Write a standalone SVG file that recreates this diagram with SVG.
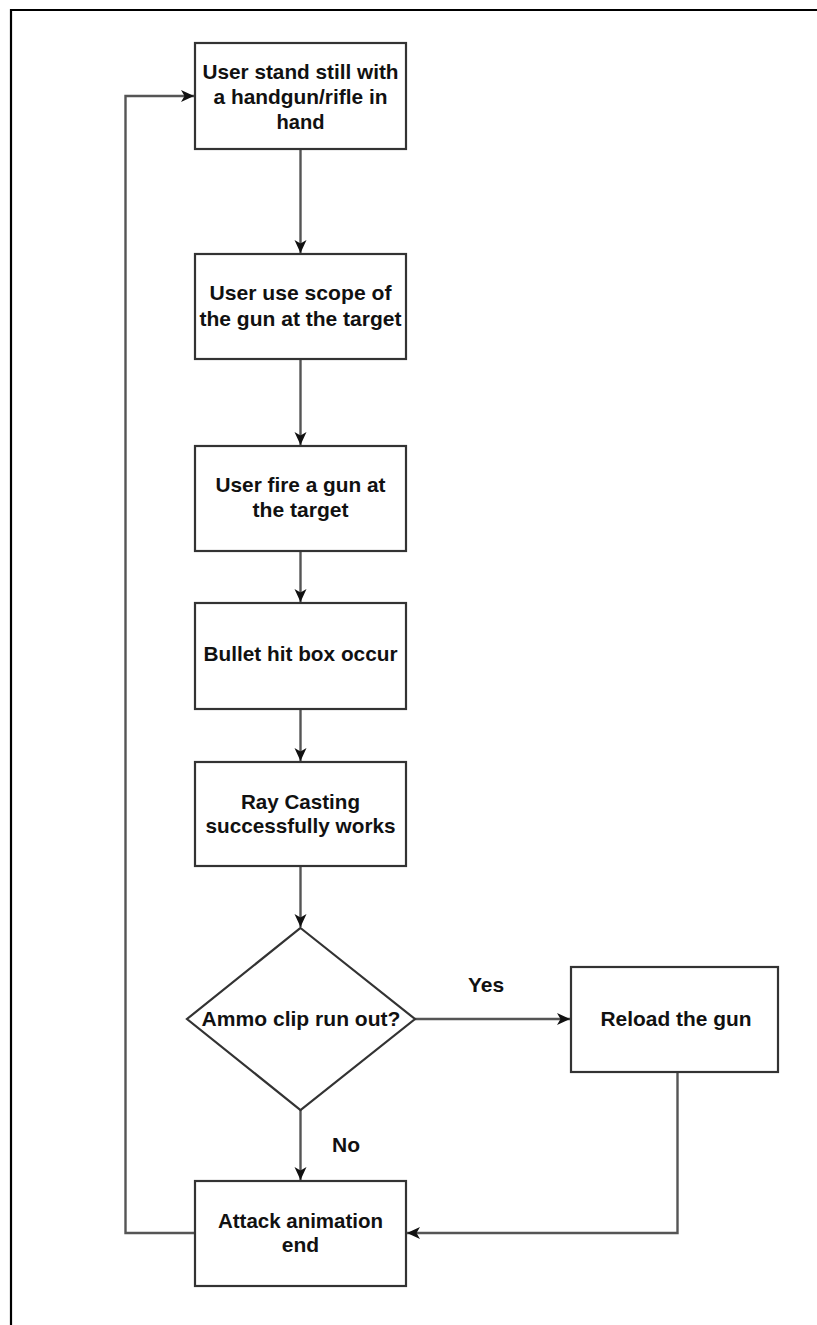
<svg xmlns="http://www.w3.org/2000/svg" width="817" height="1325" viewBox="0 0 817 1325">
<style>
.box{fill:#fff;stroke:#333;stroke-width:2.2}
.t{font-family:"Liberation Sans",Arial,sans-serif;font-weight:bold;font-size:21px;fill:#111;text-anchor:middle}
.c{fill:none;stroke:#555;stroke-width:2.4}
</style>
<defs>
<marker id="ah" viewBox="0 0 14 14" refX="13" refY="7" markerWidth="14" markerHeight="14" markerUnits="userSpaceOnUse" orient="auto">
<path d="M0,1 L13,7 L0,13 L3.5,7 z" fill="#111"/>
</marker>
</defs>
<rect x="0" y="0" width="817" height="1325" fill="#fff"/>
<path d="M11,1325 V10 H817" fill="none" stroke="#000" stroke-width="2.2"/>
<g id="connectors">
<path class="c" d="M300.5,149 V253" marker-end="url(#ah)"/>
<path class="c" d="M300.5,359 V445" marker-end="url(#ah)"/>
<path class="c" d="M300.5,551 V602" marker-end="url(#ah)"/>
<path class="c" d="M300.5,709 V761" marker-end="url(#ah)"/>
<path class="c" d="M300.5,866 V927" marker-end="url(#ah)"/>
<path class="c" d="M415,1019 H570" marker-end="url(#ah)"/>
<path class="c" d="M300.5,1110 V1180" marker-end="url(#ah)"/>
<path class="c" d="M677.5,1072 V1233 H407" marker-end="url(#ah)"/>
<path class="c" d="M195,1233 H125.5 V96 H194" marker-end="url(#ah)"/>
<text class="t" x="486" y="992">Yes</text>
<text class="t" x="346" y="1152">No</text>
</g>
<g id="n1">
<rect class="box" x="195" y="43" width="211" height="106"/>
<text class="t" x="300.5" y="79" textLength="196" lengthAdjust="spacingAndGlyphs">User stand still with</text>
<text class="t" x="300.5" y="104" textLength="174" lengthAdjust="spacingAndGlyphs">a handgun/rifle in</text>
<text class="t" x="300.5" y="129" textLength="48" lengthAdjust="spacingAndGlyphs">hand</text>
</g>
<g id="n2">
<rect class="box" x="195" y="254" width="211" height="105"/>
<text class="t" x="300.5" y="300" textLength="182" lengthAdjust="spacingAndGlyphs">User use scope of</text>
<text class="t" x="300.5" y="326" textLength="202" lengthAdjust="spacingAndGlyphs">the gun at the target</text>
</g>
<g id="n3">
<rect class="box" x="195" y="446" width="211" height="105"/>
<text class="t" x="300.5" y="492" textLength="170" lengthAdjust="spacingAndGlyphs">User fire a gun at</text>
<text class="t" x="300.5" y="517" textLength="96" lengthAdjust="spacingAndGlyphs">the target</text>
</g>
<g id="n4">
<rect class="box" x="195" y="603" width="211" height="106"/>
<text class="t" x="300.5" y="661" textLength="194" lengthAdjust="spacingAndGlyphs">Bullet hit box occur</text>
</g>
<g id="n5">
<rect class="box" x="195" y="762" width="211" height="104"/>
<text class="t" x="300.5" y="809" textLength="119" lengthAdjust="spacingAndGlyphs">Ray Casting</text>
<text class="t" x="300.5" y="833" textLength="190" lengthAdjust="spacingAndGlyphs">successfully works</text>
</g>
<g id="n6">
<polygon class="box" points="300.5,928 415,1019 300.5,1110 187,1019"/>
<text class="t" x="301" y="1026" textLength="199" lengthAdjust="spacingAndGlyphs">Ammo clip run out?</text>
</g>
<g id="n7">
<rect class="box" x="571" y="967" width="207" height="105"/>
<text class="t" x="676" y="1026" textLength="151" lengthAdjust="spacingAndGlyphs">Reload the gun</text>
</g>
<g id="n8">
<rect class="box" x="195" y="1181" width="211" height="105"/>
<text class="t" x="300.5" y="1228" textLength="165" lengthAdjust="spacingAndGlyphs">Attack animation</text>
<text class="t" x="300.5" y="1252">end</text>
</g>
</svg>
